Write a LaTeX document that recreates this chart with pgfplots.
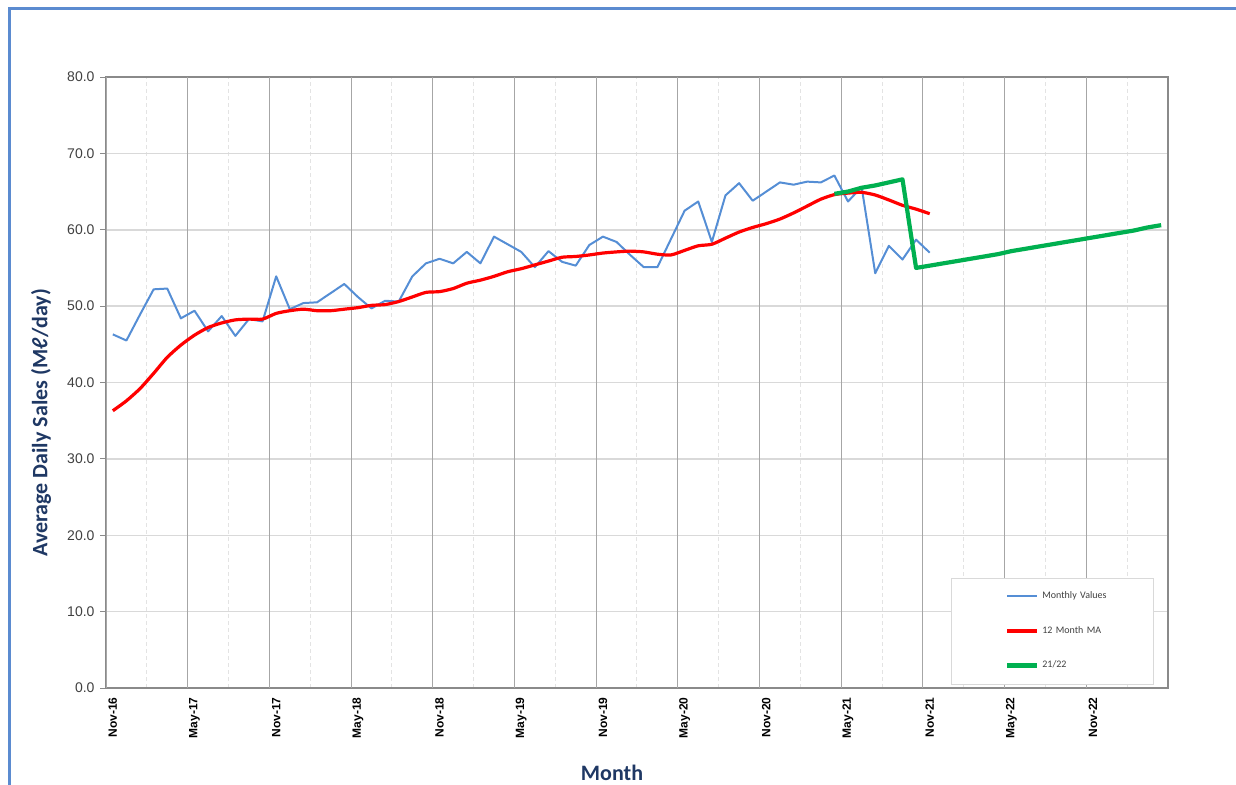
\documentclass[border=0pt]{standalone}
\usepackage{fontspec}
\setmainfont{Carlito}
\newfontfamily\arialf{Liberation Sans}
\usepackage{pgfplots}
\usepackage{pgfplotstable}
\pgfplotsset{compat=1.18}

\definecolor{monthly}{HTML}{558ED5}
\definecolor{ma}{HTML}{FF0000}
\definecolor{fcast}{HTML}{00B050}
\definecolor{navy}{HTML}{1F3864}
\definecolor{framegray}{HTML}{8A8A8A}
\definecolor{majorx}{HTML}{A6A6A6}
\definecolor{gridy}{HTML}{D9D9D9}
\definecolor{minorx}{HTML}{E3E3E3}
\definecolor{frameblue}{HTML}{5B8BD0}
\definecolor{ticktext}{HTML}{404040}

% month index: 0 = Nov-16
\pgfplotstableread{
m v
0 46.3
1 45.5
2 48.9
3 52.2
4 52.3
5 48.4
6 49.4
7 46.7
8 48.7
9 46.1
10 48.3
11 48.0
12 53.9
13 49.6
14 50.4
15 50.5
16 51.7
17 52.9
18 51.2
19 49.7
20 50.7
21 50.6
22 53.9
23 55.6
24 56.2
25 55.6
26 57.1
27 55.6
28 59.1
29 58.1
30 57.1
31 55.1
32 57.2
33 55.8
34 55.3
35 58.0
36 59.1
37 58.4
38 56.7
39 55.1
40 55.1
41 58.8
42 62.5
43 63.7
44 58.4
45 64.5
46 66.1
47 63.8
48 65.0
49 66.2
50 65.9
51 66.3
52 66.2
53 67.1
54 63.7
55 65.6
56 54.3
57 57.9
58 56.1
59 58.7
60 57.0
}\monthlytab

\pgfplotstableread{
m v
0 36.3
1 37.6
2 39.2
3 41.2
4 43.3
5 44.9
6 46.2
7 47.2
8 47.8
9 48.2
10 48.3
11 48.3
12 49.05
13 49.4
14 49.6
15 49.4
16 49.4
17 49.6
18 49.8
19 50.1
20 50.2
21 50.6
22 51.2
23 51.8
24 51.9
25 52.3
26 53.0
27 53.4
28 53.9
29 54.5
30 54.9
31 55.4
32 55.9
33 56.4
34 56.5
35 56.7
36 56.95
37 57.1
38 57.2
39 57.1
40 56.8
41 56.7
42 57.3
43 57.9
44 58.1
45 58.9
46 59.7
47 60.3
48 60.8
49 61.4
50 62.2
51 63.1
52 64.0
53 64.6
54 64.8
55 64.9
56 64.55
57 63.9
58 63.2
59 62.7
60 62.1
}\matab

\pgfplotstableread{
m v
53 64.7
54 65.0
55 65.5
56 65.8
57 66.2
58 66.6
59 55.0
60 55.3
61 55.6
62 55.9
63 56.2
64 56.5
65 56.8
66 57.2
67 57.5
68 57.8
69 58.1
70 58.4
71 58.7
72 59.0
73 59.3
74 59.6
75 59.9
76 60.3
77 60.6
}\fcasttab

\begin{document}
\begin{tikzpicture}
\draw[frameblue, line width=3bp] (9bp,0bp) -- (9bp,776bp) -- (1236bp,776bp);
\begin{axis}[
  at={(106bp,97bp)}, anchor=south west,
  scale only axis, width=1062bp, height=611bp,
  xmin=-0.5, xmax=77.5, ymin=0, ymax=80,
  axis line style={draw=framegray, line width=2.5bp},
  tick align=outside,
  xtick pos=bottom, ytick pos=left,
  major tick length=6bp,
  tick style={draw=framegray, line width=0.8bp},
  xtick={0,6,...,72},
  xticklabels={Nov-16,May-17,Nov-17,May-18,Nov-18,May-19,Nov-19,May-20,Nov-20,May-21,Nov-21,May-22,Nov-22},
  xtick style={draw=none},
  x tick label style={rotate=90, anchor=east, text=black,
    font=\arialf\bfseries\fontsize{12bp}{14bp}\selectfont},
  xmajorgrids=false,
  minor xtick={2.5,8.5,...,74.5},
  xminorgrids=true,
  minor tick length=0pt,
  minor grid style={draw=minorx, line width=1bp, dash pattern=on 4bp off 3bp},
  extra x ticks={-0.5,5.5,...,71.5},
  extra x tick labels={},
  extra x tick style={grid=major, major grid style={draw=majorx, line width=1bp},
    tick style={draw=framegray, line width=0.8bp}, major tick length=5bp},
  ytick={0,10,...,80},
  ymajorgrids=true,
  major grid style={draw=gridy, line width=1.5bp},
  y tick label style={text=ticktext, xshift=-2bp, font=\arialf\fontsize{14bp}{16bp}\selectfont,
    /pgf/number format/.cd, fixed, fixed zerofill, precision=1, assume math mode=true},
  ylabel={Average Daily Sales (Mℓ/day)},
  ylabel style={at={(axis description cs:-0.0612,0.434)}, anchor=center,
    text=navy, font=\bfseries\fontsize{22bp}{26bp}\selectfont},
  xlabel={Month},
  xlabel style={at={(axis description cs:0.4765,-0.139)}, anchor=center,
    text=navy, font=\bfseries\fontsize{22bp}{26bp}\selectfont},
  legend style={at={(axis description cs:0.7957,0.18)}, anchor=north west,
    draw=gridy, fill=white, inner xsep=0pt, inner ysep=14bp, row sep=26bp,
    font=\fontsize{10bp}{12bp}\selectfont, text=ticktext,
    nodes={inner sep=0pt, anchor=west, text width=111bp, text height=6.5bp, text depth=2bp},
    /tikz/every odd column/.append style={column sep=3bp}},
  legend cell align=left,
  legend image code/.code={\path (-54bp,0bp); \draw[#1] (0bp,0bp) -- (30bp,0bp);},
]
\addplot[monthly, line width=2bp, line join=round] table[x=m, y=v] {\monthlytab};
\addlegendentry{Monthly Values}
\addplot[ma, line width=3.2bp, line join=round, smooth, tension=0.4] table[x=m, y=v] {\matab};
\addlegendentry{12 Month MA}
\addplot[fcast, line width=4.2bp, line join=round] table[x=m, y=v] {\fcasttab};
\addlegendentry{21/22}
\end{axis}
\pgfresetboundingbox
\path[use as bounding box] (0bp,0bp) rectangle (1236bp,785bp);
\end{tikzpicture}
\end{document}
